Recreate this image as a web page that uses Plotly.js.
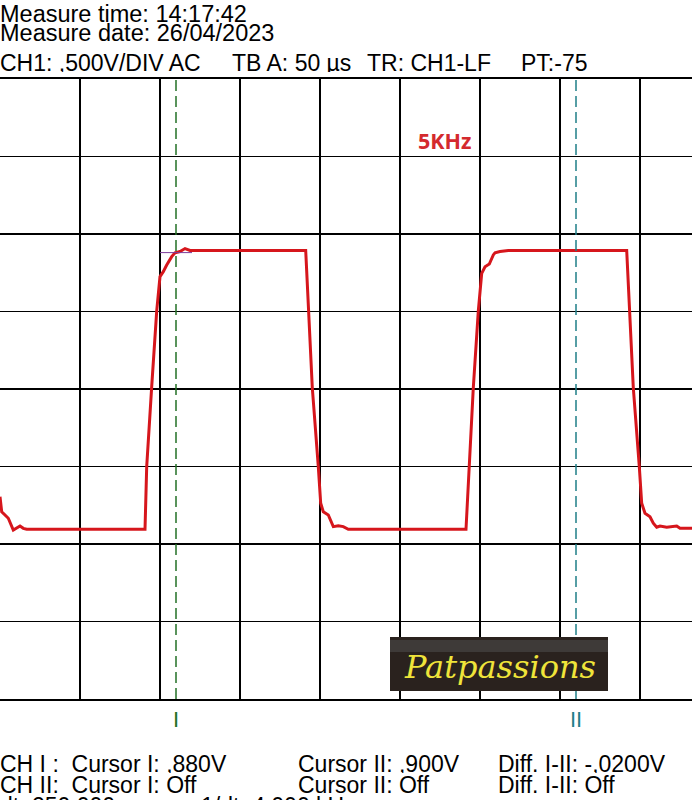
<!DOCTYPE html>
<html>
<head>
<meta charset="utf-8">
<script src="https://cdn.plot.ly/plotly-3.0.1.min.js"></script>
<style>
  html, body { margin: 0; padding: 0; background: #fff; }
  #chart { width: 692px; height: 800px; }
</style>
</head>
<body>
<div id="chart"></div>
<script>
// ---- data (time in µs, voltage in V) ----
const timeUs = [0,1.06,3.13,5.19,8.31,10.44,12.5,14.56,16.69,90.63,
  91.69,94.81,97.94,100.0,102.06,104.19,107.31,109.38,112.5,115.63,118.75,191.06,
  192.69,195.19,198.94,200.44,202.06,205.19,208.31,211.44,214.56,217.69,291.25,
  293.31,295.81,298.94,301.06,303.13,305.81,308.31,309.38,312.5,317.69,391.69,
  393.31,395.81,399.56,401.06,403.13,406.25,408.31,410.44,412.5,416.69,422.94,425.0,432.5];
const volts = [-0.695,-0.792,-0.813,-0.834,-0.910,-0.899,-0.884,-0.899,-0.905,-0.905,
  -0.501,0.015,0.503,0.725,0.757,0.800,0.854,0.879,0.887,0.906,0.894,0.894,
  0.503,0.008,-0.501,-0.737,-0.792,-0.813,-0.888,-0.882,-0.888,-0.905,-0.905,
  -0.501,0.008,0.503,0.746,0.789,0.806,0.865,0.879,0.887,0.894,0.894,
  0.503,0.008,-0.501,-0.737,-0.802,-0.824,-0.866,-0.892,-0.884,-0.892,-0.884,-0.899,-0.899];

const cursorNames = ["I", "II"];
const cursorTimes = [110, 360];      // µs
const cursorVolts = [0.880, 0.900];  // V

const headerLines = ["Measure time: 14:17:42", "Measure date: 26/04/2023"];
const settingsTexts = ["CH1: ,500V/DIV AC", "TB A: 50 µs", "TR: CH1-LF", "PT:-75"];
const footerRow1 = ["CH I :  Cursor I: ,880V", "Cursor II: ,900V", "Diff. I-II: -,0200V"];
const footerRow2 = ["CH II:  Cursor I: Off", "Cursor II: Off", "Diff. I-II: Off"];
const footerRow3 = ["dt: 250,000 µs", "1/dt: 4,000 kHz"];
const freqLabel = "5KHz";
const logoText = "Patpassions";

// ---- layout helpers (pixel -> paper) ----
const W = 692, H = 800, T = 79, B = 699;
const fx = px => px / W;
const fy = py => (B - py) / (B - T);
const FONT = "Liberation Sans, Arial, sans-serif";

const cursorColors = ["#237026", "#1f7f88"];

const traces = [
  {
    x: timeUs, y: volts, type: "scatter", mode: "lines",
    line: { color: "#d6161c", width: 3 }, hoverinfo: "skip", showlegend: false
  }
];
cursorTimes.forEach((t, i) => {
  traces.push({
    x: [t, t], y: [-2, 2], type: "scatter", mode: "lines",
    line: { color: cursorColors[i], width: 1.5, dash: "11px,5px" },
    hoverinfo: "skip", showlegend: false
  });
});
// cursor I level marker
traces.push({
  x: [cursorTimes[0] - 10, cursorTimes[0] + 10], y: [cursorVolts[0], cursorVolts[0]],
  type: "scatter", mode: "lines", line: { color: "#7d3c9a", width: 1 },
  hoverinfo: "skip", showlegend: false
});

const ann = [];
function txt(text, px, py, size, color, extra) {
  ann.push(Object.assign({
    text: text, xref: "paper", yref: "paper", x: fx(px), y: fy(py),
    xanchor: "left", yanchor: "middle", showarrow: false, borderpad: 0, height: 19,
    font: { family: FONT, size: size, color: color || "#000" }
  }, extra || {}));
}
txt(headerLines[0], -1, 13, 23.5);
txt(headerLines[1], -1, 33, 23.5);
const setX = [-1, 231, 366, 520];
settingsTexts.forEach((s, i) => txt(s, setX[i], 63, 23));
const footX = [-1, 297, 497];
footerRow1.forEach((s, i) => txt(s, footX[i], 764, 23));
footerRow2.forEach((s, i) => txt(s, footX[i], 784, 23));
const foot3X = [-1, 200];
footerRow3.forEach((s, i) => txt(s, foot3X[i], 805, 23));

txt("<b>" + freqLabel + "</b>", 417, 140, 21, "#d42a2e", { height: 24, font: { family: "Open Sans, sans-serif", size: 21.5, color: "#d42a2e" } });

cursorNames.forEach((n, i) => {
  ann.push({
    text: n, xref: "x", yref: "paper", x: cursorTimes[i], y: fy(719),
    xanchor: "center", yanchor: "middle", showarrow: false,
    font: { family: FONT, size: 22, color: cursorColors[i] }
  });
});

ann.push({
  text: "<i>" + logoText + "</i>", xref: "paper", yref: "paper",
  x: fx(500), y: fy(667), xanchor: "center", yanchor: "middle", showarrow: false,
  font: { family: "DejaVu Serif, serif", size: 32, color: "#efe43a" }
});

const shapes = [
  { type: "rect", xref: "paper", yref: "paper", x0: fx(390), x1: fx(608), y0: fy(691), y1: fy(637),
    fillcolor: "#2a221e", line: { width: 0 }, layer: "above" },
  { type: "rect", xref: "paper", yref: "paper", x0: fx(390), x1: fx(608), y0: fy(652), y1: fy(640),
    fillcolor: "#3e3a38", line: { width: 0 }, layer: "above" }
];

const layout = {
  width: W, height: H,
  margin: { l: 0, r: 0, t: T, b: H - B, pad: 0 },
  paper_bgcolor: "#fff", plot_bgcolor: "#fff",
  showlegend: false,
  xaxis: {
    range: [0, 432.5], tick0: 0, dtick: 50, showgrid: true, gridcolor: "#000", gridwidth: 1.5,
    zeroline: false, showline: true, mirror: true, linecolor: "#000", linewidth: 2,
    showticklabels: false, ticks: "", fixedrange: true
  },
  yaxis: {
    range: [-2, 2], tick0: 0, dtick: 0.5, showgrid: true, gridcolor: "#000", gridwidth: 1.5,
    zeroline: false, showline: false, showticklabels: false, ticks: "", fixedrange: true
  },
  annotations: ann,
  shapes: shapes
};

Plotly.newPlot("chart", traces, layout, { displayModeBar: false, staticPlot: true });
</script>
</body>
</html>
